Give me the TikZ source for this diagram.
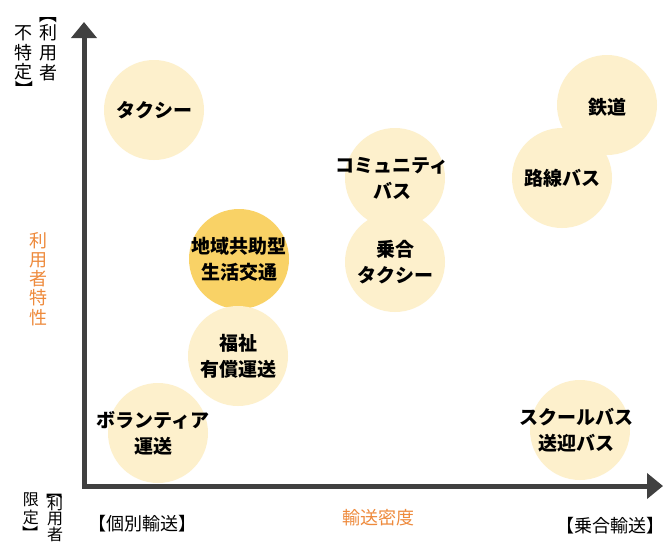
\documentclass[tikz,border=0pt]{standalone}
\usepackage{fontspec}
\setmainfont{Noto Sans CJK JP}
\usetikzlibrary{arrows.meta}
\definecolor{cream}{HTML}{FDF0CC}
\definecolor{gold}{HTML}{F9D266}
\definecolor{axisgray}{HTML}{404040}
\definecolor{orangetxt}{HTML}{EE8A3C}
\tikzset{
  bubble/.style={circle, fill=cream, minimum size=100pt, inner sep=0pt},
  hilite/.style={bubble, fill=gold},
  btext/.style={inner sep=0pt, align=center,
    font=\fontsize{19pt}{26pt}\selectfont\bfseries, text=black},
  vchar/.style={inner sep=0pt, font=\fontsize{18pt}{18pt}\selectfont},
  vsmall/.style={inner sep=0pt, font=\fontsize{16pt}{16pt}\selectfont},
  axislabel/.style={inner sep=0pt, font=\fontsize{18pt}{18pt}\selectfont},
  axisline/.style={draw=axisgray, line width=5pt, line join=miter,
    {Triangle[length=16pt,width=25pt]}-{Triangle[length=16pt,width=25pt]}}
}
\begin{document}
\begin{tikzpicture}[x=1pt,y=-1pt]
\useasboundingbox (0,0) rectangle (667,544);
\fill[white] (0,0) rectangle (667,544);
% bubbles
\node[bubble] (taxi) at (154,110) {};
\node[bubble] (comm) at (395,178) {};
\node[bubble] (joai) at (395,262) {};
\node[bubble] (tetsu) at (607,105) {};
\node[bubble] (rosen) at (562,178) {};
\node[hilite] (chiiki) at (239,259) {};
\node[bubble] (fuku) at (238,356) {};
\node[bubble] (vol) at (158,433) {};
\node[bubble] (school) at (580,430) {};
% bubble texts
\node[btext] (taxiT) at (taxi.center) {タクシー};
\node[btext] (commT) at ([xshift=-3pt]comm.center) {コミュニティ\\バス};
\node[btext] (joaiT) at (joai.center) {乗合\\タクシー};
\node[btext] (tetsuT) at ([yshift=-2pt]tetsu.center) {鉄道};
\node[btext] (rosenT) at (rosen.center) {路線バス};
\node[btext] (chiikiT) at (chiiki.center) {地域共助型\\生活交通};
\node[btext] (fukuT) at (fuku.center) {福祉\\有償運送};
\node[btext] (volT) at ([xshift=-5pt]vol.center) {ボランティア\\運送};
\node[btext] (schoolT) at ([xshift=-4pt]school.center) {スクールバス\\送迎バス};
% axes
\coordinate (ytip) at (84,22);
\coordinate (origin) at (84,486);
\coordinate (xtip) at (663,486);
\draw[axisline] (ytip) -- (origin) -- (xtip);
% top-left vertical label
\node[vchar, rotate=-90] (t0) at (48,14) {【};
\node[vchar] (t1) at (48,33) {利};
\node[vchar] (t2) at (48,53) {用};
\node[vchar] (t3) at (48,73) {者};
\node[vchar] (t4) at (24,33) {不};
\node[vchar] (t5) at (24,53) {特};
\node[vchar] (t6) at (24,72) {定};
\node[vchar, rotate=-90] (t7) at (24,89) {】};
% axis title vertical
\node[vchar, text=orangetxt] (a1) at (38,241) {利};
\node[vchar, text=orangetxt] (a2) at (38,260) {用};
\node[vchar, text=orangetxt] (a3) at (38,279) {者};
\node[vchar, text=orangetxt] (a4) at (38,298) {特};
\node[vchar, text=orangetxt] (a5) at (38,318) {性};
% bottom-left vertical label
\node[vsmall, rotate=-90] (b0) at (55,491) {【};
\node[vsmall] (b1) at (55,503) {利};
\node[vsmall] (b2) at (55,519) {用};
\node[vsmall] (b3) at (55,534) {者};
\node[vsmall] (b4) at (31,500) {限};
\node[vsmall] (b5) at (31,517) {定};
\node[vsmall, rotate=-90] (b6) at (31,533) {】};
% bottom labels
\node[axislabel] (ind) at (142,524) {【個別輸送】};
\node[axislabel, text=orangetxt] (dens) at (378,518) {輸送密度};
\node[axislabel] (shared) at (610,526) {【乗合輸送】};
\end{tikzpicture}
\end{document}
